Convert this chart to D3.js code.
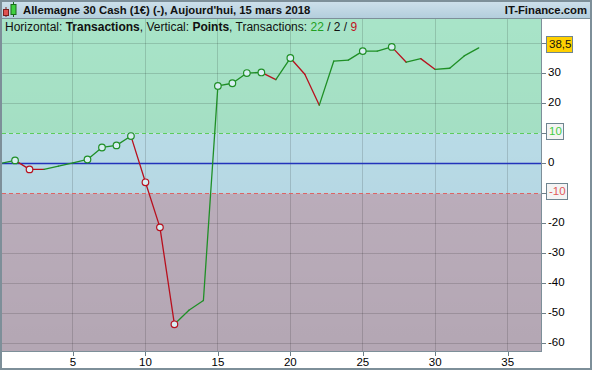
<!DOCTYPE html>
<html><head><meta charset="utf-8">
<script src="https://cdn.jsdelivr.net/npm/d3@7"></script>
<style>
html,body{margin:0;padding:0;background:#fff;}
svg{display:block;font-family:Arial,"Liberation Sans",sans-serif;}
</style></head>
<body>
<script>
// ---- data ----
const title = "Allemagne 30 Cash (1€) (-), Aujourd'hui, 15 mars 2018";
const site = "IT-Finance.com";
const transactions = [0,1,2,3,4,5,6,7,8,9,10,11,12,13,14,15,16,17,18,19,20,21,22,23,24,25,26,27,28,29,30,31,32,33];
const points = [0, 1.0, -2.0, -2.0, -0.9, 0.2, 1.3, 5.3, 6.0, 9.1, -6.3, -21.3, -53.6, -48.9, -45.7,
  25.8, 26.7, 30.1, 30.3, 27.9, 35.1, 29.7, 19.4, 34.1, 34.4, 37.4, 37.4, 38.8, 33.7, 34.9, 31.3, 31.7, 35.8, 38.5];
const markers = [1,2,6,7,8,9,10,11,12,15,16,17,18,20,25,27];
const xTicks = [5,10,15,20,25,30,35];
const yTicks = [40,30,20,0,-20,-30,-40,-50,-60];
const upperBand = 10, lowerBand = -10;
const lastValue = 38.5, lastLabel = "38,5";
const counts = {up: 22, flat: 2, down: 9};

// ---- layout ----
const W = 592, H = 370;
const P = {l: 2, r: 541, t: 19, b: 351};
const svg = d3.select("body").append("svg").attr("width", W).attr("height", H);
const x = d3.scaleLinear().domain([0.1, 37.3]).range([P.l, P.r]);
const y = d3.scaleLinear().domain([-62.5, 48.1]).range([P.b, P.t]);

const defs = svg.append("defs");
defs.append("clipPath").attr("id","clip").append("rect")
  .attr("x",P.l).attr("y",P.t).attr("width",P.r-P.l).attr("height",P.b-P.t);
const sh = defs.append("linearGradient").attr("id","shade").attr("x1",0).attr("y1",0).attr("x2",0).attr("y2",1);
sh.append("stop").attr("offset","0").attr("stop-color","#000").attr("stop-opacity",0);
sh.append("stop").attr("offset","1").attr("stop-color","#000").attr("stop-opacity",0.07);
const hg = defs.append("linearGradient").attr("id","hdr").attr("x1",0).attr("y1",0).attr("x2",0).attr("y2",1);
hg.append("stop").attr("offset","0").attr("stop-color","#cfe1ec");
hg.append("stop").attr("offset","1").attr("stop-color","#b2cddc");

// zones
const g = svg.append("g").attr("clip-path","url(#clip)");
g.append("rect").attr("x",P.l).attr("width",P.r-P.l).attr("y",P.t).attr("height",y(upperBand)-P.t).attr("fill","#a8e4c8");
g.append("rect").attr("x",P.l).attr("width",P.r-P.l).attr("y",y(upperBand)).attr("height",y(lowerBand)-y(upperBand)).attr("fill","#bde0ec");
g.append("rect").attr("x",P.l).attr("width",P.r-P.l).attr("y",y(lowerBand)).attr("height",P.b-y(lowerBand)).attr("fill","#c1b3c1");
g.append("rect").attr("x",P.l).attr("width",P.r-P.l).attr("y",P.t).attr("height",P.b-P.t).attr("fill","url(#shade)");

// grid
g.selectAll(".vg").data(xTicks).join("line")
  .attr("x1",d=>x(d)).attr("x2",d=>x(d)).attr("y1",P.t).attr("y2",P.b)
  .attr("stroke","#000").attr("stroke-opacity",0.14).attr("shape-rendering","crispEdges");
g.selectAll(".hg").data(yTicks.filter(d=>d!==0)).join("line")
  .attr("x1",P.l).attr("x2",P.r).attr("y1",d=>Math.round(y(d))+0.5).attr("y2",d=>Math.round(y(d))+0.5)
  .attr("stroke","#000").attr("stroke-opacity",0.14);

// band lines
g.append("line").attr("x1",P.l).attr("x2",P.r).attr("y1",Math.round(y(upperBand))+0.5).attr("y2",Math.round(y(upperBand))+0.5)
  .attr("stroke","#5ccc5c").attr("stroke-dasharray","4,3");
g.append("line").attr("x1",P.l).attr("x2",P.r).attr("y1",Math.round(y(lowerBand))+0.5).attr("y2",Math.round(y(lowerBand))+0.5)
  .attr("stroke","#dc6464").attr("stroke-dasharray","4,3");
g.append("line").attr("x1",P.l).attr("x2",P.r).attr("y1",Math.round(y(0))+0.5).attr("y2",Math.round(y(0))+0.5)
  .attr("stroke","#2233bb").attr("stroke-width",1.3);

// segments
const GREEN = "#1f8f26", RED = "#b8101e";
const segs = [];
let prev = GREEN;
for (let i = 1; i < points.length; i++) {
  const d = points[i] - points[i-1];
  const c = d > 0 ? GREEN : d < 0 ? RED : prev;
  prev = c;
  segs.push({a: i-1, b: i, c});
}
const colorIn = {};
segs.forEach(s => colorIn[s.b] = s.c);
g.selectAll(".seg").data(segs).join("line")
  .attr("x1",s=>x(transactions[s.a])).attr("y1",s=>y(points[s.a]))
  .attr("x2",s=>x(transactions[s.b])).attr("y2",s=>y(points[s.b]))
  .attr("stroke",s=>s.c).attr("stroke-width",1.3).attr("stroke-linecap","round");
g.selectAll(".mk").data(markers).join("circle")
  .attr("cx",i=>x(transactions[i])).attr("cy",i=>y(points[i])).attr("r",3.3)
  .attr("fill","#d8eef2").attr("stroke",i=>colorIn[i]).attr("stroke-width",1.2);

// legend text
const lg = svg.append("text").attr("x",5).attr("y",31).attr("font-size",12).attr("fill","#111");
lg.append("tspan").text("Horizontal: ");
lg.append("tspan").attr("font-weight","bold").text("Transactions");
lg.append("tspan").text(", Vertical: ");
lg.append("tspan").attr("font-weight","bold").text("Points");
lg.append("tspan").text(", Transactions: ");
lg.append("tspan").attr("fill","#22a022").text(counts.up);
lg.append("tspan").text(" / ");
lg.append("tspan").attr("fill","#111").text(counts.flat);
lg.append("tspan").text(" / ");
lg.append("tspan").attr("fill","#c01020").text(counts.down);

// plot frame right/bottom
svg.append("line").attr("x1",P.r+0.5).attr("x2",P.r+0.5).attr("y1",P.t).attr("y2",P.b).attr("stroke","#7d8f99");
svg.append("line").attr("x1",P.l).attr("x2",P.r+1).attr("y1",P.b+0.5).attr("y2",P.b+0.5).attr("stroke","#7d8f99");

// right axis
const ra = svg.append("g");
const rTicks = yTicks.concat([upperBand, lowerBand]);
ra.selectAll("line").data(rTicks).join("line")
  .attr("x1",P.r+1).attr("x2",P.r+5).attr("y1",d=>Math.round(y(d))+0.5).attr("y2",d=>Math.round(y(d))+0.5)
  .attr("stroke","#6d7f89");
ra.selectAll("text").data(yTicks.filter(d=>d!==40)).join("text")
  .attr("x",P.r+7).attr("y",d=>y(d)-1.5).attr("dy","0.35em")
  .attr("font-size",11.5).attr("fill","#000").text(d=>d);

function box(v, label, fill, color, yOff) {
  const t = svg.append("text").attr("x",P.r+8).attr("y",y(v)+yOff).attr("dy","0.35em")
    .attr("font-size",11.5).attr("fill",color).text(label);
  const bb = t.node().getBBox();
  svg.insert("rect", () => t.node()).attr("x",P.r+5.5).attr("y",Math.round(y(v)+yOff-8)+0.5)
    .attr("width",Math.round(bb.width+4)).attr("height",16).attr("fill",fill).attr("stroke","#6f8590");
}
box(upperBand, String(upperBand), "#f4f4f4", "#44cc44", -2);
box(lowerBand, String(lowerBand), "#f4f4f4", "#e05a5a", -2);
box(lastValue, lastLabel, "#ffd000", "#111", -3.5);

// bottom axis
const ba = svg.append("g");
ba.selectAll("line").data(xTicks).join("line")
  .attr("x1",d=>Math.round(x(d))+0.5).attr("x2",d=>Math.round(x(d))+0.5).attr("y1",P.b+1).attr("y2",P.b+5)
  .attr("stroke","#6d7f89");
ba.selectAll("text").data(xTicks).join("text")
  .attr("x",d=>x(d)).attr("y",362).attr("dy","0.35em").attr("text-anchor","middle")
  .attr("font-size",11.5).attr("fill","#000").text(d=>d);

// header
svg.append("rect").attr("x",0).attr("y",0).attr("width",W).attr("height",P.t).attr("fill","url(#hdr)");
svg.append("line").attr("x1",0).attr("x2",W).attr("y1",P.t-0.5).attr("y2",P.t-0.5).attr("stroke","#7d8f99");
svg.append("text").attr("x",23).attr("y",14).attr("font-size",11.3).attr("font-weight","bold").attr("fill","#111").text(title);
svg.append("text").attr("x",587).attr("y",14).attr("font-size",11.3).attr("font-weight","bold").attr("fill","#111")
  .attr("text-anchor","end").text(site);
// icon
const ic = svg.append("g");
ic.append("line").attr("x1",6).attr("x2",6).attr("y1",7).attr("y2",17).attr("stroke","#7a2020");
ic.append("rect").attr("x",3.5).attr("y",9.5).attr("width",5).attr("height",6).attr("fill","#e05050").attr("stroke","#7a2020");
ic.append("line").attr("x1",13.5).attr("x2",13.5).attr("y1",2).attr("y2",17).attr("stroke","#1a6a1a");
ic.append("rect").attr("x",11).attr("y",4.5).attr("width",5).attr("height",10).attr("fill","#40d040").attr("stroke","#1a6a1a");

// outer border
svg.append("rect").attr("x",1).attr("y",1).attr("width",W-2).attr("height",H-2)
  .attr("fill","none").attr("stroke","#7d8f99").attr("stroke-width",2);
</script>
</body></html>
